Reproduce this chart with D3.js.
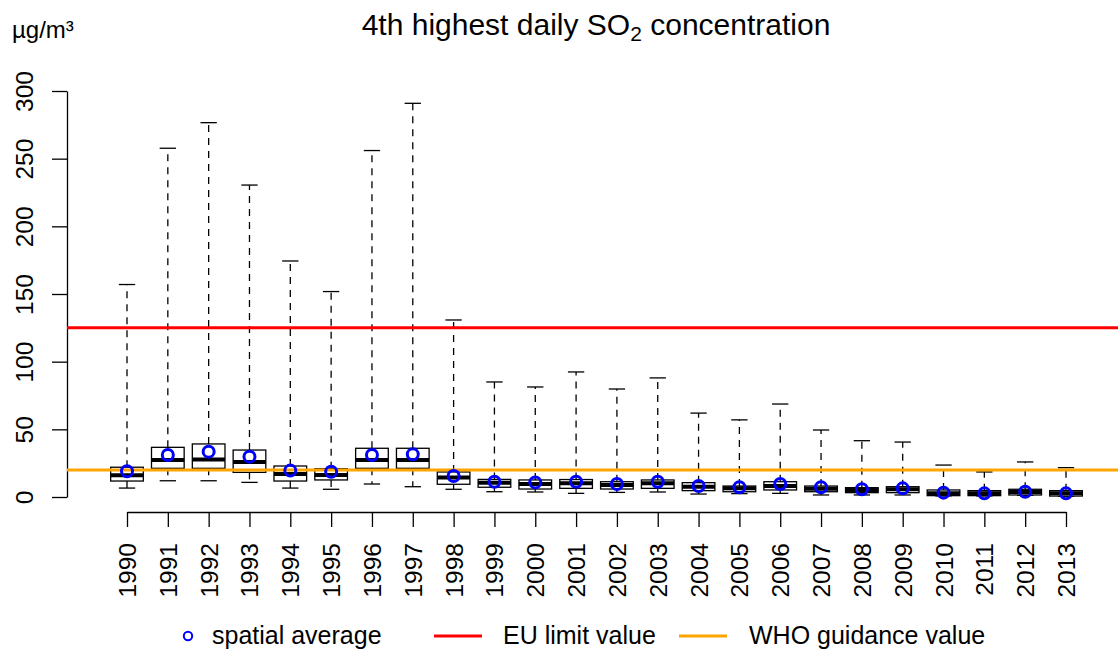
<!DOCTYPE html>
<html>
<head>
<meta charset="utf-8">
<script src="https://cdn.jsdelivr.net/npm/d3@7"></script>
<style>
  html, body { margin: 0; padding: 0; background: #fff; }
  svg { display: block; font-family: "Liberation Sans", Arial, Helvetica, sans-serif; }
</style>
</head>
<body>
<svg id="chart" width="1118" height="650"></svg>
<script>
const years = ["1990","1991","1992","1993","1994","1995","1996","1997","1998","1999","2000","2001","2002","2003","2004","2005","2006","2007","2008","2009","2010","2011","2012","2013"];
const whiskerLow = [6.6, 12, 12, 10.8, 6.6, 5.7, 9.6, 7.6, 5.7, 3.9, 3.7, 2.7, 3.4, 3.7, 2.2, 2.5, 2.7, 1.5, 1.5, 1.5, 0.8, 0.8, 1.2, 0.6];
const q1 = [11.8, 21.2, 21.2, 18.2, 11.8, 12.6, 21.2, 21.2, 9.4, 7.2, 5.9, 6.4, 5.9, 6.4, 4.7, 3.9, 5.2, 3.9, 3.2, 3.2, 1.0, 1.0, 1.5, 0.7];
const median = [16, 27.3, 27.8, 25.9, 17, 16.3, 27.3, 27.3, 14.5, 10.6, 9.6, 10.1, 8.9, 10.1, 7.6, 6.4, 8.1, 6.1, 5.2, 5.7, 2.7, 2.7, 3.7, 2.7];
const q3 = [22, 36.7, 39.2, 34.7, 22.9, 20.9, 36, 36, 18.5, 13, 12.6, 12.9, 11.3, 12.6, 10.6, 8.1, 11.3, 8.1, 6.9, 7.6, 5.2, 4.7, 5.7, 4.7];
const whiskerHigh = [157, 257.7, 276.6, 230.5, 174.4, 151.8, 256, 290.9, 130.8, 85, 81.3, 92.4, 79.8, 88, 62, 57, 68.7, 49.5, 41.6, 40.6, 23.6, 18.5, 25.9, 21.7];
const spatialAverage = [19, 31, 33.5, 29.8, 19.5, 18.7, 31, 31.5, 15.5, 11.3, 10.8, 11.3, 9.6, 11.3, 8.1, 7.2, 9.6, 7.2, 5.7, 6.4, 3.2, 2.7, 3.9, 2.7];
const yTicks = [0, 50, 100, 150, 200, 250, 300];
const euLimit = 125;
const whoGuidance = 20;
const legendLabels = ["spatial average", "EU limit value", "WHO guidance value"];

const svg = d3.select("#chart");
const x = d3.scalePoint().domain(years).range([127, 1066]);
const y = d3.scaleLinear().domain([0, 300]).range([497, 91]);
const boxW = x.step() * 0.8;
const capW = boxW * 0.5;

const data = years.map((yr, i) => ({
  yr, lo: whiskerLow[i], q1: q1[i], med: median[i], q3: q3[i], hi: whiskerHigh[i], mean: spatialAverage[i]
}));

// Title
const title = svg.append("text")
  .attr("x", 596).attr("y", 35)
  .attr("text-anchor", "middle")
  .attr("font-size", 30)
  .attr("fill", "#000");
title.append("tspan").text("4th highest daily SO");
title.append("tspan").attr("font-size", 21).attr("dy", 6).text("2");
title.append("tspan").attr("dy", -6).text(" concentration");

// Unit label
svg.append("text")
  .attr("x", 12).attr("y", 38)
  .attr("font-size", 24)
  .text("µg/m³");

// Y axis
const yAxis = svg.append("g")
  .attr("transform", "translate(67,0)")
  .call(d3.axisLeft(y).tickValues(yTicks).tickSize(15).tickSizeOuter(0).tickPadding(0));
yAxis.selectAll("path, line").attr("stroke", "#000").attr("stroke-width", 1.3);
yAxis.selectAll("text").remove();
yAxis.selectAll(".tick").append("text")
  .attr("transform", "translate(-34,0) rotate(-90)")
  .attr("text-anchor", "middle")
  .attr("fill", "#000")
  .attr("font-size", 24.5)
  .attr("font-family", "Liberation Sans, Arial, sans-serif")
  .text(d => d);

// X axis
const xAxis = svg.append("g")
  .attr("transform", "translate(0,512)")
  .call(d3.axisBottom(x).tickSize(15).tickSizeOuter(0));
xAxis.selectAll("path, line").attr("stroke", "#000").attr("stroke-width", 1.3);
xAxis.selectAll("text").remove();
xAxis.selectAll(".tick").append("text")
  .attr("transform", "translate(8.5,31) rotate(-90)")
  .attr("text-anchor", "end")
  .attr("fill", "#000")
  .attr("font-size", 24.5)
  .attr("font-family", "Liberation Sans, Arial, sans-serif")
  .text(d => d);

// Boxplots
const g = svg.append("g");
const b = g.selectAll("g.box").data(data).enter().append("g").attr("class", "box");
b.append("line")
  .attr("x1", d => x(d.yr)).attr("x2", d => x(d.yr))
  .attr("y1", d => y(d.q3)).attr("y2", d => y(d.hi))
  .attr("stroke", "#000").attr("stroke-width", 1.3).attr("stroke-dasharray", "7,6");
b.append("line")
  .attr("x1", d => x(d.yr)).attr("x2", d => x(d.yr))
  .attr("y1", d => y(d.q1)).attr("y2", d => y(d.lo))
  .attr("stroke", "#000").attr("stroke-width", 1.3).attr("stroke-dasharray", "7,6");
b.append("line")
  .attr("x1", d => x(d.yr) - capW / 2).attr("x2", d => x(d.yr) + capW / 2)
  .attr("y1", d => y(d.hi)).attr("y2", d => y(d.hi))
  .attr("stroke", "#000").attr("stroke-width", 1.3);
b.append("line")
  .attr("x1", d => x(d.yr) - capW / 2).attr("x2", d => x(d.yr) + capW / 2)
  .attr("y1", d => y(d.lo)).attr("y2", d => y(d.lo))
  .attr("stroke", "#000").attr("stroke-width", 1.3);
b.append("rect")
  .attr("x", d => x(d.yr) - boxW / 2).attr("width", boxW)
  .attr("y", d => y(d.q3)).attr("height", d => y(d.q1) - y(d.q3))
  .attr("fill", "#fff").attr("stroke", "#000").attr("stroke-width", 1.3);
b.append("line")
  .attr("x1", d => x(d.yr) - boxW / 2).attr("x2", d => x(d.yr) + boxW / 2)
  .attr("y1", d => y(d.med)).attr("y2", d => y(d.med))
  .attr("stroke", "#000").attr("stroke-width", 4);

// Reference lines
svg.append("line")
  .attr("x1", 67).attr("x2", 1118)
  .attr("y1", y(euLimit)).attr("y2", y(euLimit))
  .attr("stroke", "#ff0000").attr("stroke-width", 3);
svg.append("line")
  .attr("x1", 67).attr("x2", 1118)
  .attr("y1", y(whoGuidance)).attr("y2", y(whoGuidance))
  .attr("stroke", "#ffa500").attr("stroke-width", 3);

// Means
svg.append("g").selectAll("circle").data(data).enter().append("circle")
  .attr("cx", d => x(d.yr)).attr("cy", d => y(d.mean))
  .attr("r", 5.5)
  .attr("fill", "none").attr("stroke", "#0000ff").attr("stroke-width", 3);

// Legend
const lg = svg.append("g");
lg.append("circle").attr("cx", 188).attr("cy", 636).attr("r", 4.2)
  .attr("fill", "none").attr("stroke", "#0000ff").attr("stroke-width", 2);
lg.append("text").attr("x", 212).attr("y", 644).attr("font-size", 25).text(legendLabels[0]);
lg.append("line").attr("x1", 434).attr("x2", 482).attr("y1", 636).attr("y2", 636)
  .attr("stroke", "#ff0000").attr("stroke-width", 3);
lg.append("text").attr("x", 503).attr("y", 644).attr("font-size", 25).text(legendLabels[1]);
lg.append("line").attr("x1", 679).attr("x2", 727).attr("y1", 636).attr("y2", 636)
  .attr("stroke", "#ffa500").attr("stroke-width", 3);
lg.append("text").attr("x", 749).attr("y", 644).attr("font-size", 25).text(legendLabels[2]);
</script>
</body>
</html>
